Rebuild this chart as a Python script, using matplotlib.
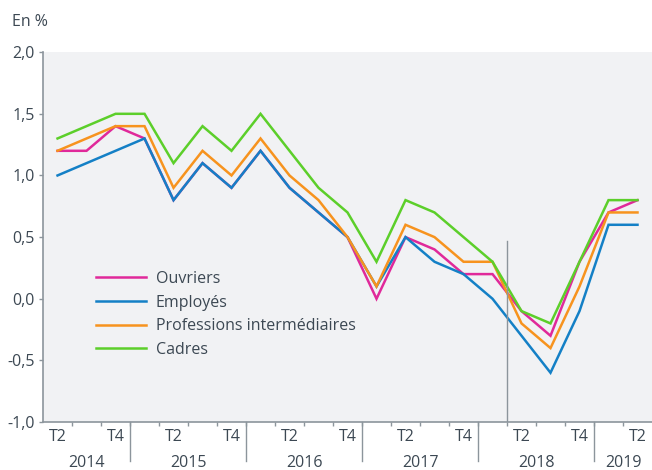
import matplotlib
matplotlib.use("Agg")
import matplotlib.pyplot as plt
import matplotlib.transforms as mtransforms
from matplotlib.ticker import FuncFormatter


# -----------------------------
# Data (quarterly change, in %)
# -----------------------------
QUARTERS = [
    "T2", "T3", "T4",
    "T1", "T2", "T3", "T4",
    "T1", "T2", "T3", "T4",
    "T1", "T2", "T3", "T4",
    "T1", "T2", "T3", "T4",
    "T1", "T2",
]
YEARS = ["2014", "2015", "2016", "2017", "2018", "2019"]
QUARTERS_PER_YEAR = [3, 4, 4, 4, 4, 2]

ouvriers = [1.2, 1.2, 1.4, 1.3, 0.8, 1.1, 0.9, 1.2, 0.9, 0.7, 0.5,
            0.0, 0.5, 0.4, 0.2, 0.2, -0.1, -0.3, 0.3, 0.7, 0.8]
employes = [1.0, 1.1, 1.2, 1.3, 0.8, 1.1, 0.9, 1.2, 0.9, 0.7, 0.5,
            0.1, 0.5, 0.3, 0.2, 0.0, -0.3, -0.6, -0.1, 0.6, 0.6]
prof_inter = [1.2, 1.3, 1.4, 1.4, 0.9, 1.2, 1.0, 1.3, 1.0, 0.8, 0.5,
              0.1, 0.6, 0.5, 0.3, 0.3, -0.2, -0.4, 0.1, 0.7, 0.7]
cadres = [1.3, 1.4, 1.5, 1.5, 1.1, 1.4, 1.2, 1.5, 1.2, 0.9, 0.7,
          0.3, 0.8, 0.7, 0.5, 0.3, -0.1, -0.2, 0.3, 0.8, 0.8]

SERIES = [
    ("Ouvriers", ouvriers, "#e0299a"),
    ("Employés", employes, "#1480c6"),
    ("Professions intermédiaires", prof_inter, "#f7931e"),
    ("Cadres", cadres, "#5ccf2a"),
]

# break in series between 2018 T1 and 2018 T2
BREAK_TOP = 0.47

TEXT_COLOR = "#3c4853"
AXIS_COLOR = "#8c959c"
BG_COLOR = "#f1f2f4"


def main():
    plt.rcParams["font.family"] = ["Open Sans", "DejaVu Sans"]
    plt.rcParams["font.size"] = 11.5

    fig = plt.figure(figsize=(6.52, 4.70), dpi=100)
    ax = fig.add_axes([0.066, 0.102, 0.934, 0.787])
    ax.set_facecolor(BG_COLOR)

    x = list(range(len(QUARTERS)))
    for label, values, color in SERIES:
        ax.plot(x, values, color=color, lw=1.8, label=label,
                solid_joinstyle="miter")

    # break line
    break_x = 15.5
    ax.plot([break_x, break_x], [-1.0, BREAK_TOP], color=AXIS_COLOR, lw=1.0)

    ax.set_xlim(-0.5, len(QUARTERS) - 0.5)
    ax.set_ylim(-1.0, 2.0)

    # y axis
    ax.set_yticks([-1.0, -0.5, 0.0, 0.5, 1.0, 1.5, 2.0])
    ax.yaxis.set_major_formatter(
        FuncFormatter(lambda v, p: f"{v:.1f}".replace(".", ","))
    )
    ax.tick_params(axis="y", length=3, width=1, color=AXIS_COLOR,
                   labelcolor=TEXT_COLOR, pad=3)

    # x axis: labels under points, small ticks between quarters
    ax.set_xticks(x)
    ax.set_xticklabels([q if q in ("T2", "T4") else "" for q in QUARTERS])
    ax.set_xticks([i + 0.5 for i in range(len(QUARTERS) - 1)], minor=True)
    ax.tick_params(axis="x", which="major", length=0, pad=5,
                   labelcolor=TEXT_COLOR)
    ax.tick_params(axis="x", which="minor", length=3, width=1,
                   color=AXIS_COLOR)

    for side in ("top", "right"):
        ax.spines[side].set_visible(False)
    for side in ("left", "bottom"):
        ax.spines[side].set_color(AXIS_COLOR)
        ax.spines[side].set_linewidth(1.2)

    # year separators and labels
    trans = mtransforms.blended_transform_factory(ax.transData, ax.transAxes)
    start = -0.5
    for year, n in zip(YEARS, QUARTERS_PER_YEAR):
        end = start + n
        if end < len(QUARTERS) - 0.5:
            ax.plot([end, end], [0, -0.105], color=AXIS_COLOR, lw=1.0,
                    transform=trans, clip_on=False)
        ax.text((start + end) / 2, -0.11, year, transform=trans,
                ha="center", va="center", color=TEXT_COLOR)
        start = end

    fig.text(12 / 652, 1 - 22 / 470, "En %", ha="left", va="center",
             color=TEXT_COLOR)

    leg = ax.legend(loc="upper left", bbox_to_anchor=(96 / 652, 1 - 271 / 470),
                    bbox_transform=fig.transFigure, frameon=False,
                    borderpad=0, borderaxespad=0, handlelength=3.1,
                    handletextpad=0.65, labelspacing=0.48)
    for t in leg.get_texts():
        t.set_color(TEXT_COLOR)

    fig.savefig("out.png", dpi=100)
    plt.close(fig)


if __name__ == "__main__":
    main()
